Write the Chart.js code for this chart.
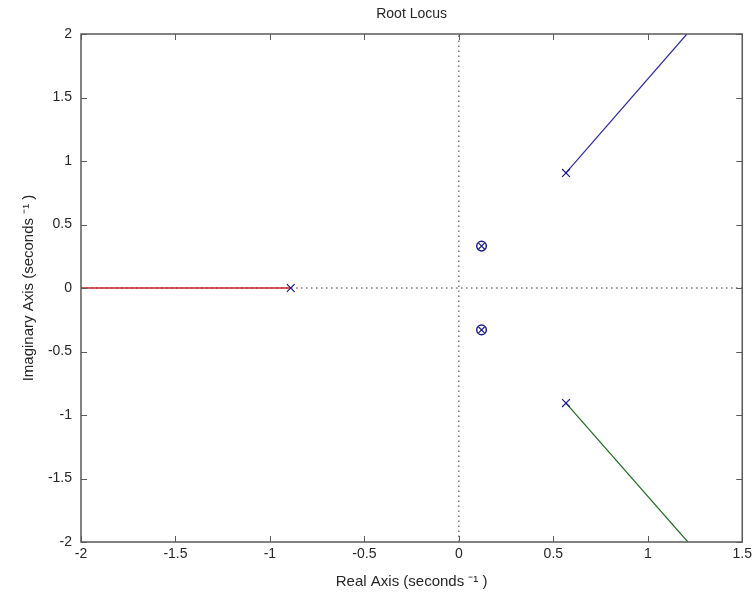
<!DOCTYPE html>
<html><head><meta charset="utf-8">
<script src="https://cdn.jsdelivr.net/npm/chart.js@4"></script>
<style>html,body{margin:0;padding:0;background:#fff}</style>
</head><body>
<canvas id="c" width="756" height="598"></canvas>
<script>
// ---- data ----
const xTicks = [-2, -1.5, -1, -0.5, 0, 0.5, 1, 1.5];
const yTicks = [2, 1.5, 1, 0.5, 0, -0.5, -1, -1.5, -2];
const poleRe = [-0.89, 0.567, 0.567];
const poleIm = [0, 0.906, -0.906];
const zeroRe = [0.12, 0.12];
const zeroIm = [0.33, -0.33];
const redRe = [-2, -0.89];
const redIm = [0, 0];
const blueRe = [0.567, 1.207];
const blueIm = [0.906, 2];
const greenRe = [0.567, 1.212];
const greenIm = [-0.906, -2];
const hAxisRe = [-2, 1.5], hAxisIm = [0, 0];
const vAxisRe = [0, 0], vAxisIm = [-2, 2];

const pts = (xs, ys) => xs.map((x, i) => ({x, y: ys[i]}));
const FONT = "'Liberation Sans', Arial, sans-serif";
const TXT = '#262626';

const boxTicks = {
  id: 'boxTicks',
  afterDatasetsDraw(chart) {
    const {ctx, chartArea: a, scales: {x, y}} = chart;
    ctx.save();
    ctx.strokeStyle = '#5a5a5a';
    ctx.lineWidth = 1.5;
    ctx.strokeRect(a.left, a.top, a.right - a.left, a.bottom - a.top);
    ctx.lineWidth = 1;
    const L = 6;
    ctx.beginPath();
    xTicks.forEach(v => {
      const px = Math.round(x.getPixelForValue(v)) + 0.5;
      ctx.moveTo(px, a.bottom); ctx.lineTo(px, a.bottom - L);
      ctx.moveTo(px, a.top); ctx.lineTo(px, a.top + L);
    });
    yTicks.forEach(v => {
      const py = Math.round(y.getPixelForValue(v)) + 0.5;
      ctx.moveTo(a.left, py); ctx.lineTo(a.left + L, py);
      ctx.moveTo(a.right, py); ctx.lineTo(a.right - L, py);
    });
    ctx.stroke();
    ctx.restore();
  }
};

new Chart(document.getElementById('c'), {
  type: 'scatter',
  data: {
    datasets: [
      {data: pts(zeroRe, zeroIm), pointStyle: 'circle', pointRadius: 4.8, borderColor: '#1c1c8c', backgroundColor: 'rgba(0,0,0,0)', borderWidth: 1.5, showLine: false},
      {data: pts(zeroRe, zeroIm), pointStyle: 'crossRot', pointRadius: 4.5, borderColor: '#1c1c8c', borderWidth: 1.2, showLine: false},
      {data: pts(poleRe, poleIm), pointStyle: 'crossRot', pointRadius: 5.5, borderColor: '#1c1c8c', borderWidth: 1.2, showLine: false},
      {data: pts(redRe, redIm), showLine: true, borderColor: '#d0202a', borderWidth: 1.5, pointRadius: 0},
      {data: pts(blueRe, blueIm), showLine: true, borderColor: '#2b2ba8', borderWidth: 1.2, pointRadius: 0},
      {data: pts(greenRe, greenIm), showLine: true, borderColor: '#1e6e1e', borderWidth: 1.2, pointRadius: 0},
      {data: pts(hAxisRe, hAxisIm), showLine: true, borderColor: '#333', borderWidth: 1, borderDash: [1.5, 3.5], pointRadius: 0},
      {data: pts(vAxisRe, vAxisIm), showLine: true, borderColor: '#333', borderWidth: 1, borderDash: [1.5, 3.5], pointRadius: 0}
    ]
  },
  options: {
    responsive: false,
    animation: false,
    layout: {padding: {left: 0, right: 10, top: 0, bottom: 0}},
    plugins: {
      legend: {display: false},
      tooltip: {enabled: false},
      title: {display: true, fullSize: false, text: 'Root Locus', color: TXT,
        font: {family: FONT, size: 14, weight: 'normal'}, padding: {top: 5.6, bottom: 11.6}}
    },
    scales: {
      x: {
        type: 'linear', min: -2, max: 1.5,
        afterBuildTicks: s => { s.ticks = xTicks.map(v => ({value: v})); },
        afterFit: s => { s.height = 56; },
        grid: {display: false, drawTicks: false}, border: {display: false},
        ticks: {color: TXT, padding: 4, font: {family: FONT, size: 14}, maxRotation: 0, autoSkip: false, callback: v => String(v)},
        title: {display: true, text: 'Real Axis (seconds \u207B\u00B9 )', color: TXT,
          font: {family: FONT, size: 15}, padding: {top: 0, bottom: 7.0}}
      },
      y: {
        type: 'linear', min: -2, max: 2,
        afterBuildTicks: s => { s.ticks = yTicks.map(v => ({value: v})); },
        afterFit: s => { s.width = 81; },
        grid: {display: false, drawTicks: false}, border: {display: false},
        ticks: {color: TXT, padding: 9, font: {family: FONT, size: 14}, autoSkip: false, callback: v => String(v)},
        title: {display: true, text: 'Imaginary Axis (seconds \u207B\u00B9 )', color: TXT,
          font: {family: FONT, size: 15}, padding: {top: 20, bottom: 0}}
      }
    }
  },
  plugins: [boxTicks]
});
</script>
</body></html>
